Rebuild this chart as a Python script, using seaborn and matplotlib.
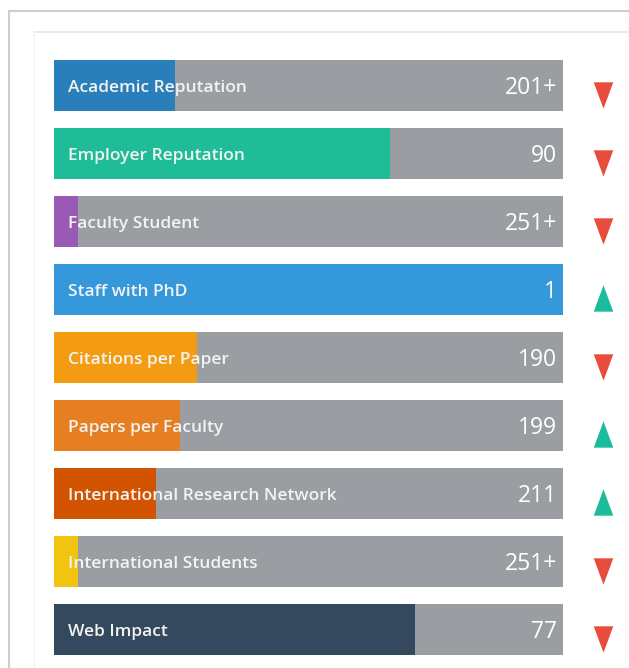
import matplotlib
matplotlib.use("Agg")
import matplotlib.pyplot as plt
from matplotlib.lines import Line2D
import seaborn as sns
import pandas as pd

# ---- data ----
categories = ["Academic Reputation", "Employer Reputation", "Faculty Student",
              "Staff with PhD", "Citations per Paper", "Papers per Faculty",
              "International Research Network", "International Students", "Web Impact"]
scores = [0.238, 0.66, 0.047, 1.0, 0.281, 0.248, 0.20, 0.047, 0.71]
rank_labels = ["201+", "90", "251+", "1", "190", "199", "211", "251+", "77"]
trend = ["down", "down", "down", "up", "down", "up", "up", "down", "down"]
bar_colors = ["#2a7fba", "#1fbc98", "#9b59b6", "#3498db", "#f39c12",
              "#e67e22", "#d35400", "#f1c40f", "#34495e"]
track_color = "#9a9ea2"
up_color = "#1abc9c"
down_color = "#e74c3c"

sns.set_theme(style="white")
plt.rcParams['font.family'] = ['Open Sans', 'DejaVu Sans']

W, H = 629, 668
fig = plt.figure(figsize=(W / 100, H / 100), dpi=100)
ax = fig.add_axes([0, 0, 1, 1])

df = pd.DataFrame({"category": categories, "score": scores,
                   "full": [1.0] * len(categories)})

sns.barplot(data=df, x="full", y="category", color=track_color, width=0.75,
            saturation=1, linewidth=0, orient="h", ax=ax, errorbar=None)
sns.barplot(data=df, x="score", y="category", hue="category", palette=bar_colors,
            width=0.75, saturation=1, linewidth=0, orient="h", dodge=False,
            legend=False, ax=ax, errorbar=None)

# map data to pixel layout: x=0 -> px 54, x=1 -> px 563 ; row pitch 68 px
bar_px = 509.0
ax.set_xlim(-54 / bar_px, (W - 54) / bar_px)
ax.set_ylim((H - 85.5) / 68.0, -85.5 / 68.0)
ax.axis("off")

for i, (cat, rk, tr) in enumerate(zip(categories, rank_labels, trend)):
    ax.text(14 / bar_px, i + 0.095, cat, ha="left", va="baseline",
            color="#f2f4f4", fontsize=12.5, fontweight="semibold")
    ax.text(503 / bar_px, i + 0.125, rk, ha="right", va="baseline",
            color="#ffffff", fontsize=16.5)

down_marker = [(-10, 13.5), (10, 13.5), (0, -13.5)]
up_marker = [(-10, -13.5), (10, -13.5), (0, 13.5)]
xs_down = [549 / bar_px for t in trend if t == "down"]
ys_down = [i + 0.14 for i, t in enumerate(trend) if t == "down"]
xs_up = [549 / bar_px for t in trend if t == "up"]
ys_up = [i + 0.12 for i, t in enumerate(trend) if t == "up"]
ax.scatter(xs_down, ys_down, marker=down_marker, s=360, color=down_color,
           linewidths=0, zorder=5)
ax.scatter(xs_up, ys_up, marker=up_marker, s=360, color=up_color,
           linewidths=0, zorder=5)

# frames
def fx(px):
    return px / W

def fy(py):
    return 1 - py / H

fig.add_artist(Line2D([fx(9), 1], [fy(11), fy(11)], transform=fig.transFigure,
                      color="#cdcdcd", lw=1.5))
fig.add_artist(Line2D([fx(9), fx(9)], [0, fy(11)], transform=fig.transFigure,
                      color="#cdcdcd", lw=1.5))
fig.add_artist(Line2D([fx(34), 1], [fy(32), fy(32)], transform=fig.transFigure,
                      color="#e6e6e6", lw=1.2))
fig.add_artist(Line2D([fx(34), fx(34)], [0, fy(32)], transform=fig.transFigure,
                      color="#f3f3f3", lw=1.0))

fig.savefig("out.png", dpi=100)
